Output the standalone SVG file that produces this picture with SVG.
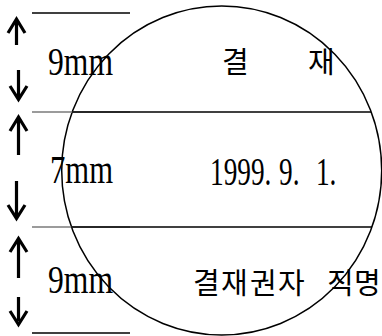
<svg xmlns="http://www.w3.org/2000/svg" width="382" height="336" viewBox="0 0 382 336">
<style>
.lat{font-family:"Liberation Serif","Times New Roman",serif;font-size:39px;fill:#000}
.kr{font-family:"Noto Sans CJK KR","Noto Sans CJK SC",sans-serif;font-size:29px;fill:#000}
.arr{fill:none;stroke:#000;stroke-width:3.2;stroke-linecap:butt;stroke-linejoin:miter}
.short{stroke:#000;stroke-width:1.3}
.grey{stroke:#7a7a7a;stroke-width:1.3}
.chord{stroke:#000;stroke-width:1.5}
</style>
<rect width="382" height="336" fill="#fff"/>
<g id="seal">
<ellipse cx="221.7" cy="170.5" rx="160" ry="164.5" fill="none" stroke="#000" stroke-width="1.5"/>
</g>
<g id="rules">
<line class="short" x1="32" y1="13" x2="130" y2="13"/>
<line class="grey" x1="32" y1="112" x2="130" y2="112"/>
<line class="chord" x1="72" y1="112" x2="371" y2="112"/>
<line class="grey" x1="32" y1="227" x2="130" y2="227"/>
<line class="chord" x1="71" y1="227" x2="372" y2="227"/>
<line class="short" x1="32" y1="333" x2="130" y2="333"/>
</g>
<g id="arrows">
<path class="arr" d="M16.5 45V21M8 33L16.5 19L25 33"/>
<path class="arr" d="M18.5 70V97M10 86L18.5 99.5L27 86"/>
<path class="arr" d="M18.5 155V119M10 131L18.5 117L27 131"/>
<path class="arr" d="M16.5 181V216M8 205L16.5 218.5L25 205"/>
<path class="arr" d="M18.5 278V241M10 252L18.5 238.5L27 252"/>
<path class="arr" d="M18.5 297V321M10 311L18.5 324.5L27 311"/>
</g>
<g id="row1">
<text class="lat" x="48" y="75" textLength="65" lengthAdjust="spacingAndGlyphs">9mm</text>
<text class="kr" x="222 250 308" y="73">결 재</text>
</g>
<g id="row2">
<text class="lat" x="50" y="183" textLength="63" lengthAdjust="spacingAndGlyphs">7mm</text>
<text class="lat" transform="scale(0.7 1)" y="185" x="300 319.5 339 358.5 378 387.8 398.6 418.1 427.9 451.4 470.9">1999. 9. 1.</text>
</g>
<g id="row3">
<text class="lat" x="48" y="293" textLength="65" lengthAdjust="spacingAndGlyphs">9mm</text>
<text class="kr" x="193 221 250 278 305 327 354" y="294">결재권자 직명</text>
</g>
</svg>
